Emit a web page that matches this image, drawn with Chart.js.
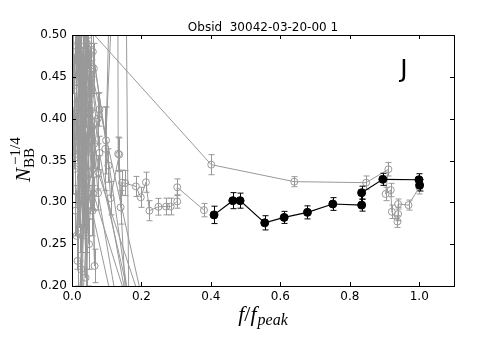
<!DOCTYPE html>
<html>
<head>
<meta charset="utf-8">
<script src="https://cdn.jsdelivr.net/npm/chart.js@4.4.0/dist/chart.umd.min.js"></script>
<style>
body{margin:0;background:#fff;}
</style>
</head>
<body>
<canvas id="chart" width="478" height="358"></canvas>
<script>
// black series (filled dots)
let blackX=[0.409,0.463,0.484,0.555,0.611,0.678,0.751,0.834,0.834,0.895,0.999,1.001];
let blackY=[0.285,0.302,0.302,0.2755,0.282,0.288,0.298,0.2967,0.3115,0.3275,0.327,0.3205];
let blackErr=[0.0104,0.0096,0.009,0.0085,0.0072,0.0078,0.0076,0.0072,0.0078,0.0072,0.0072,0.007];

// grey series, first run (dense cluster near zero, ends at 0.38)
let greyAX=[0.004,0.015,0.028,0.009,0.037,0.021,0.042,0.013,0.032,0.055,0.017,0.047,0.023,0.040,0.011,0.059,0.030,0.050,0.007,0.063,
  0.026,0.045,0.019,0.036,0.054,0.003,0.064,0.028,0.041,0.016,
  0.012,0.020,0.008,0.026,0.016,0.031,0.014,0.036,0.024,0.041,0.019,0.046,0.029,0.051,0.034,0.056,0.039,0.061,0.044,0.022,
  0.053,0.065,0.058,0.027,0.043,0.062,0.190,0.035,0.057,0.010,0.033,0.018,0.049,0.006,0.038,0.025,0.052,0.074,0.079,0.047,0.170,0.075,
  0.048,0.075,0.215,0.054,0.079,0.185,0.060,0.098,0.130,0.133,0.165,0.150,0.096,0.105,0.111,0.136,0.140,0.144,0.153,0.184,
  0.198,0.213,0.223,0.249,0.271,0.284,0.303,0.303,0.380];
let greyAY=[0.36,0.60,0.40,0.52,0.45,0.31,0.57,0.26,0.48,0.36,0.42,0.50,0.19,0.43,0.47,0.29,0.35,0.55,0.39,0.46,
  0.22,0.38,0.54,0.33,0.41,0.48,0.37,0.65,0.26,0.35,
  0.41,0.56,0.34,0.47,0.23,0.63,0.38,0.27,0.52,0.36,0.45,0.17,0.58,0.40,0.30,0.47,0.21,0.34,0.53,0.27,
  0.43,0.224,0.39,0.15,0.49,0.31,0.14,0.42,0.60,0.29,0.37,0.49,0.25,0.44,0.55,0.33,0.466,0.40,0.411,0.31,0.08,0.311,
  0.44,0.336,0.16,0.46,0.359,0.12,0.48,0.374,0.95,0.358,0.10,0.85,0.364,0.344,0.305,0.357,0.294,0.3235,0.323,0.319,
  0.306,0.324,0.290,0.2947,0.295,0.295,0.301,0.318,0.2907];
let greyAErr=[0.05,0.05,0.04,0.05,0.04,0.04,0.05,0.04,0.04,0.03,0.05,0.04,0.04,0.04,0.05,0.03,0.04,0.04,0.05,0.03,
  0.04,0.04,0.05,0.04,0.03,0.05,0.03,0.05,0.04,0.04,
  0.03,0.04,0.03,0.03,0.03,0.05,0.03,0.03,0.04,0.02,0.03,0.03,0.04,0.02,0.03,0.03,0.03,0.02,0.04,0.03,
  0.03,0.02,0.02,0.03,0.03,0.02,0.02,0.03,0.04,0.03,0.03,0.04,0.03,0.03,0.04,0.03,0.02,0.03,0.02,0.03,0.02,0.02,
  0.03,0.02,0.02,0.03,0.02,0.02,0.03,0.04,0.05,0.02,0.02,0.05,0.05,0.02,0.02,0.02,0.02,0.015,0.015,0.012,
  0.012,0.012,0.012,0.01,0.01,0.01,0.008,0.01,0.008];

// grey series, second run (jumps out to 0.4 and on to 1.0)
let greyBX=[0.020,0.045,0.032,0.401,0.640,0.847,0.911,0.903,0.918,0.921,0.937,0.939,0.939,0.969,1.000];
let greyBY=[0.50,0.29,0.515,0.345,0.3247,0.3235,0.3395,0.310,0.3147,0.2887,0.277,0.286,0.298,0.2967,0.318];
let greyBErr=[0.03,0.03,0.03,0.012,0.006,0.008,0.008,0.008,0.008,0.008,0.007,0.008,0.006,0.006,0.008];

let xTicks=[0,0.2,0.4,0.6,0.8,1.0];
let yTicks=[0.20,0.25,0.30,0.35,0.40,0.45,0.50];

let grey="#999999";

function pts(xs,ys){
    return xs.map((x,i)=>({x:x,y:ys[i]}));
}

let errorBars={
    id:"errorBars",
    beforeDatasetDraw(chart,args){
        let ds=chart.data.datasets[args.index];
        if(!ds.errors) return;
        let xs=chart.scales.x, ys=chart.scales.y, ctx=chart.ctx, a=chart.chartArea;
        ctx.save();
        ctx.beginPath();
        ctx.rect(a.left,a.top,a.right-a.left,a.bottom-a.top);
        ctx.clip();
        ctx.strokeStyle=ds.borderColor;
        ctx.lineWidth=1;
        ds.data.forEach((p,i)=>{
            let e=ds.errors[i];
            let px=Math.round(xs.getPixelForValue(p.x))+0.5;
            let top=ys.getPixelForValue(p.y+e), bot=ys.getPixelForValue(p.y-e);
            ctx.beginPath();
            ctx.moveTo(px,top);ctx.lineTo(px,bot);
            ctx.moveTo(px-3,top);ctx.lineTo(px+3,top);
            ctx.moveTo(px-3,bot);ctx.lineTo(px+3,bot);
            ctx.stroke();
        });
        ctx.restore();
    }
};

let frame={
    id:"frame",
    afterDraw(chart){
        let ctx=chart.ctx, a=chart.chartArea, xs=chart.scales.x, ys=chart.scales.y;
        ctx.save();
        ctx.strokeStyle="#000";
        ctx.lineWidth=1;
        ctx.strokeRect(Math.round(a.left)+0.5,Math.round(a.top)+0.5,Math.round(a.right-a.left),Math.round(a.bottom-a.top));
        ctx.beginPath();
        xTicks.forEach(v=>{
            let px=Math.round(xs.getPixelForValue(v))+0.5;
            ctx.moveTo(px,a.bottom);ctx.lineTo(px,a.bottom-4);
            ctx.moveTo(px,a.top);ctx.lineTo(px,a.top+4);
        });
        yTicks.forEach(v=>{
            let py=Math.round(ys.getPixelForValue(v))+0.5;
            ctx.moveTo(a.left,py);ctx.lineTo(a.left+4,py);
            ctx.moveTo(a.right,py);ctx.lineTo(a.right-4,py);
        });
        ctx.stroke();

        ctx.fillStyle="#000";
        // title
        ctx.font="12px 'DejaVu Sans'";
        ctx.textAlign="center";
        ctx.textBaseline="alphabetic";
        ctx.fillText("Obsid  30042-03-20-00 1",(a.left+a.right)/2,31);

        // panel letter
        ctx.font="25px 'DejaVu Sans'";
        ctx.textAlign="left";
        ctx.fillText("J",xs.getPixelForValue(0.945),ys.getPixelForValue(0.4496));

        // x label f/f_peak
        let cx=(a.left+a.right)/2, by=321;
        ctx.font="italic 22px 'Liberation Serif'";
        let w1=ctx.measureText("f").width;
        ctx.font="22px 'Liberation Serif'";
        let w2=ctx.measureText("/").width;
        ctx.font="italic 16px 'Liberation Serif'";
        let w3=ctx.measureText("peak").width;
        let total=w1+w2+w1+1+w3;
        let x0=cx-total/2;
        ctx.font="italic 22px 'Liberation Serif'";
        ctx.fillText("f",x0,by);
        ctx.font="22px 'Liberation Serif'";
        ctx.fillText("/",x0+w1,by);
        ctx.font="italic 22px 'Liberation Serif'";
        ctx.fillText("f",x0+w1+w2,by);
        ctx.font="italic 16px 'Liberation Serif'";
        ctx.fillText("peak",x0+w1+w2+w1+1,by+4);

        // y label N_BB^{-1/4}
        ctx.save();
        ctx.translate(30,182);
        ctx.rotate(-Math.PI/2);
        ctx.font="italic 21px 'Liberation Serif'";
        ctx.fillText("N",0,0);
        let wn=ctx.measureText("N").width;
        ctx.font="15px 'Liberation Serif'";
        ctx.fillText("BB",wn,4);
        ctx.fillText("\u22121/4",wn+3,-10);
        ctx.restore();
        ctx.restore();
    }
};

Chart.defaults.font.family="'DejaVu Sans'";
Chart.defaults.font.size=12;
Chart.defaults.color="#000";

let chart=new Chart(document.getElementById("chart"),{
    type:"scatter",
    data:{
        datasets:[
            {
                data:pts(blackX,blackY),
                errors:blackErr,
                showLine:true,
                borderColor:"#000",
                backgroundColor:"#000",
                borderWidth:1.2,
                pointRadius:4,
                pointBorderWidth:1,
                clip:0
            },
            {
                data:pts(greyAX,greyAY),
                errors:greyAErr,
                showLine:true,
                borderColor:grey,
                backgroundColor:"rgba(0,0,0,0)",
                borderWidth:1,
                pointRadius:3.5,
                pointBorderWidth:1,
                clip:0
            },
            {
                data:pts(greyBX,greyBY),
                errors:greyBErr,
                showLine:true,
                borderColor:grey,
                backgroundColor:"rgba(0,0,0,0)",
                borderWidth:1,
                pointRadius:3.5,
                pointBorderWidth:1,
                clip:0
            }
        ]
    },
    options:{
        responsive:false,
        animation:false,
        events:[],
        layout:{padding:{left:0,right:24,top:35,bottom:0}},
        plugins:{legend:{display:false},tooltip:{enabled:false}},
        scales:{
            x:{
                type:"linear",
                min:0,max:1.1,
                grid:{display:false,drawTicks:false},
                border:{display:false},
                afterBuildTicks(s){s.ticks=xTicks.map(v=>({value:v}));},
                afterFit(s){s.height=72;},
                ticks:{padding:4,maxRotation:0,callback:v=>v.toFixed(1)}
            },
            y:{
                type:"linear",
                min:0.2,max:0.5,
                grid:{display:false,drawTicks:false},
                border:{display:false},
                afterBuildTicks(s){s.ticks=yTicks.map(v=>({value:v}));},
                afterFit(s){s.width=72;},
                ticks:{padding:5,callback:v=>v.toFixed(2)}
            }
        }
    },
    plugins:[errorBars,frame]
});
</script>
</body>
</html>
